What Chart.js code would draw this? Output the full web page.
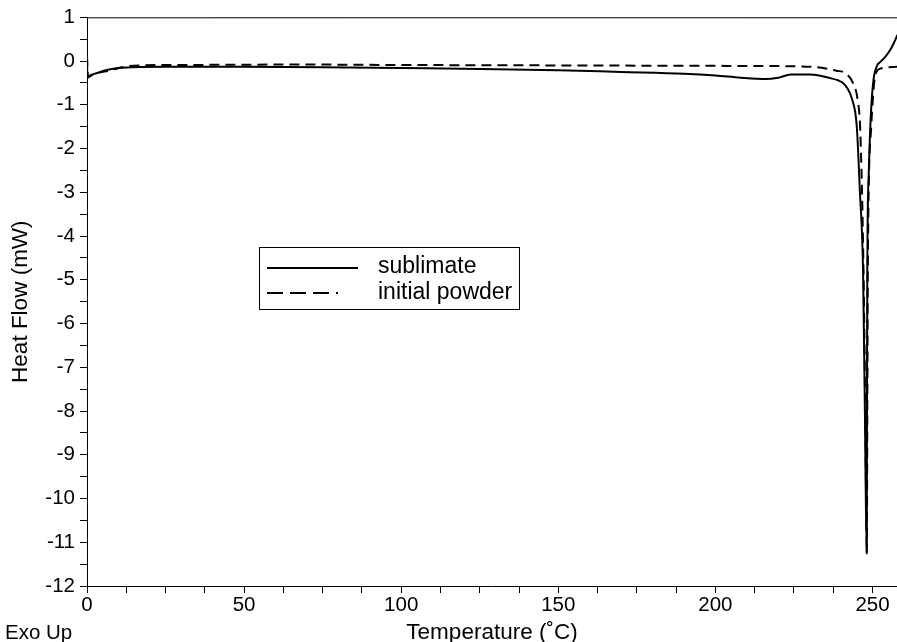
<!DOCTYPE html>
<html lang="en">
<head>
<meta charset="UTF-8">
<title>DSC</title>
<script src="https://cdn.jsdelivr.net/npm/chart.js"></script>
<style>
  html, body { margin: 0; padding: 0; background: #fff; }
  #wrap { width: 897px; height: 642px; }
</style>
</head>
<body>
<div id="wrap"><canvas id="dsc"></canvas></div>
<script>
// temperature (°C) and heat flow (mW)
var sublimateT = [0, 0.15, 1, 3, 6, 10, 15, 25, 50, 75, 100, 125, 150, 170, 190, 200, 208, 216, 220, 224, 230, 233, 236.5, 239, 240.6, 242, 243.4, 245, 246, 247, 247.6, 248.15, 248.25, 248.35, 248.8, 249.4, 250.2, 251.3, 252.5, 254, 256, 258];
var sublimateHF = [0.1, -0.38, -0.33, -0.28, -0.21, -0.16, -0.14, -0.13, -0.13, -0.14, -0.16, -0.18, -0.21, -0.25, -0.29, -0.33, -0.38, -0.41, -0.38, -0.31, -0.31, -0.33, -0.39, -0.44, -0.5, -0.62, -0.85, -1.5, -3.0, -4.8, -8.1, -11.25, -8.0, -4.8, -2.6, -1.35, -0.5, -0.13, -0.02, 0.09, 0.3, 0.6];

var powderT = [0, 0.3, 3, 7, 12, 17, 30, 70, 100, 150, 200, 225, 232, 236.5, 238.5, 241.4, 243.7, 245.3, 246.1, 247.1, 247.7, 248.2, 248.35, 248.5, 249.6, 250.4, 251, 252.6, 258];
var powderHF = [0.12, -0.36, -0.28, -0.22, -0.13, -0.1, -0.09, -0.08, -0.09, -0.1, -0.11, -0.12, -0.14, -0.19, -0.22, -0.28, -0.49, -0.9, -1.58, -4.6, -8.0, -11.25, -8.0, -4.8, -1.5, -0.6, -0.29, -0.17, -0.13];

var xMajor = [0, 50, 100, 150, 200, 250];
var yMajor = [-12, -11, -10, -9, -8, -7, -6, -5, -4, -3, -2, -1, 0, 1];

function pts(xs, ys) {
  return xs.map(function (x, i) { return { x: x, y: ys[i] }; });
}

var xTicks = [];
for (var t = 0; t <= 250; t += 12.5) xTicks.push(t);
var yTicks = [];
for (var v = -12; v <= 1; v += 0.5) yTicks.push(v);

var font = 'Liberation Sans, Arial, sans-serif';

// frame line on top, legend box and "Exo Up"
var extras = {
  id: 'extras',
  afterDraw: function (chart) {
    var c = chart.ctx, a = chart.chartArea;
    c.save();
    c.strokeStyle = '#000';
    c.lineWidth = 1;
    c.beginPath();
    c.moveTo(a.left, a.top + 0.5);
    c.lineTo(a.right, a.top + 0.5);
    c.stroke();

    // legend
    c.strokeRect(259.5, 247.5, 260, 62);
    c.lineWidth = 2;
    c.beginPath();
    c.moveTo(267, 268); c.lineTo(358, 268);
    c.stroke();
    c.setLineDash([16, 7]);
    c.beginPath();
    c.moveTo(267, 293); c.lineTo(338, 293);
    c.stroke();
    c.setLineDash([]);
    c.fillStyle = '#000';
    c.font = '23px ' + font;
    c.textBaseline = 'middle';
    c.textAlign = 'left';
    c.fillText('sublimate', 378, 267);
    c.fillText('initial powder', 378, 293);

    c.font = '20.5px ' + font;
    c.fillText('Exo Up', 5, 633);
    c.restore();
  }
};

var ctx = document.getElementById('dsc').getContext('2d');
var chart = new Chart(ctx, {
  type: 'scatter',
  data: {
    datasets: [{
      label: 'sublimate',
      data: pts(sublimateT, sublimateHF),
      showLine: true,
      borderColor: '#000',
      borderWidth: 2,
      pointRadius: 0,
      cubicInterpolationMode: 'monotone'
    }, {
      label: 'initial powder',
      data: pts(powderT, powderHF),
      showLine: true,
      borderColor: '#000',
      borderWidth: 2,
      borderDash: [10, 6],
      pointRadius: 0,
      cubicInterpolationMode: 'monotone'
    }]
  },
  options: {
    responsive: true,
    maintainAspectRatio: false,
    animation: false,
    layout: { padding: { top: 17, right: 0, left: 0, bottom: 0 } },
    plugins: {
      legend: { display: false },
      tooltip: { enabled: false }
    },
    scales: {
      x: {
        type: 'linear',
        min: 0,
        max: 257.8,
        afterBuildTicks: function (s) { s.ticks = xTicks.map(function (v) { return { value: v }; }); },
        afterFit: function (s) { s.height = 56; },
        border: { color: '#000', width: 1 },
        grid: { drawOnChartArea: false, tickLength: 7, tickColor: '#000' },
        ticks: {
          autoSkip: false,
          maxRotation: 0,
          padding: 0,
          color: '#000',
          font: { family: font, size: 20.5 },
          callback: function (v) { return xMajor.indexOf(v) >= 0 ? String(v) : ''; }
        },
        title: {
          display: true,
          text: 'Temperature (˚C)',
          color: '#000',
          font: { family: font, size: 22.5 },
          padding: { top: 0, bottom: -4 }
        }
      },
      y: {
        type: 'linear',
        min: -12,
        max: 1,
        afterBuildTicks: function (s) { s.ticks = yTicks.map(function (v) { return { value: v }; }); },
        afterFit: function (s) { s.width = 87; },
        border: { color: '#000', width: 1 },
        grid: { drawOnChartArea: false, tickLength: 7, tickColor: '#000' },
        ticks: {
          autoSkip: false,
          padding: 5,
          color: '#000',
          font: { family: font, size: 20.5 },
          callback: function (v) { return yMajor.indexOf(v) >= 0 ? String(v) : ''; }
        },
        title: {
          display: true,
          text: 'Heat Flow (mW)',
          color: '#000',
          font: { family: font, size: 22.5 },
          padding: { top: 7, bottom: 0 }
        }
      }
    }
  },
  plugins: [extras]
});
</script>
</body>
</html>
